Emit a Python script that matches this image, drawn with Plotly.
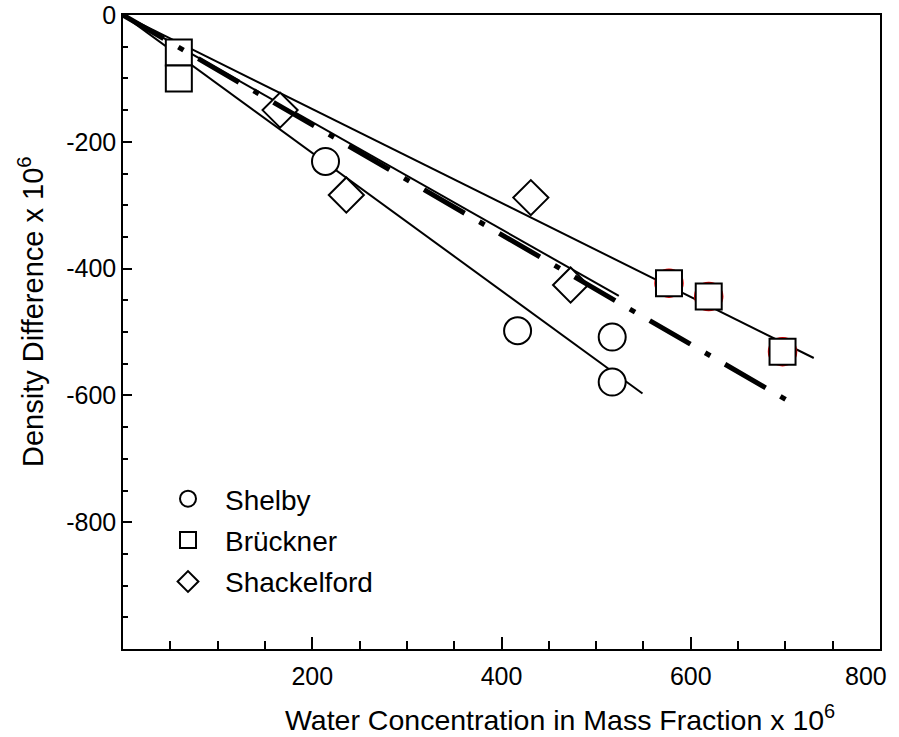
import plotly.graph_objects as go

# ---- data ----
shelby_x = [214, 417, 517, 517]
shelby_y = [-231, -498, -508, -579]

bruckner_x = [59, 59, 577, 619, 697]
bruckner_y = [-59, -100, -423, -444, -531]

shack_x = [166, 236, 431, 473]
shack_y = [-150, -284, -288, -426]

# red marks visible behind some Brückner squares
red_x = [577, 619, 697]
red_y = [-423, -444, -531]

# fitted lines (from origin to end point)
shelby_fit_x = [0, 549]
shelby_fit_y = [0, -597]
bruckner_fit_x = [0, 730]
bruckner_fit_y = [0, -541]
shack_fit_x = [0, 524]
shack_fit_y = [0, -443]
all_fit_x = [0, 701]
all_fit_y = [0, -607]

x_ticks = [200, 400, 600]
x_tick_text = ["200", "400", "600"]
x_last_tick = 800
y_ticks = [0, -200, -400, -600, -800]
y_tick_text = ["0", "-200", "-400", "-600", "-800"]

FONT = "Liberation Sans, Arial, sans-serif"

fig = go.Figure()

line_style = dict(color="black", width=2)
for fx, fy in [(shelby_fit_x, shelby_fit_y), (bruckner_fit_x, bruckner_fit_y), (shack_fit_x, shack_fit_y)]:
    fig.add_trace(go.Scatter(x=fx, y=fy, mode="lines", line=line_style,
                             showlegend=False, hoverinfo="skip"))

fig.add_trace(go.Scatter(x=red_x, y=red_y, mode="markers", showlegend=False,
                         marker=dict(symbol="circle", size=28, color="white",
                                     line=dict(color="red", width=1.5)), hoverinfo="skip"))

mk_line = dict(color="black", width=2)
fig.add_trace(go.Scatter(x=shelby_x, y=shelby_y, mode="markers", name="Shelby", legendgroup="a",
                         marker=dict(symbol="circle", size=27, color="white", line=mk_line)))
fig.add_trace(go.Scatter(x=bruckner_x, y=bruckner_y, mode="markers", name="Brückner", legendgroup="b",
                         marker=dict(symbol="square", size=26, color="white", line=mk_line)))
fig.add_trace(go.Scatter(x=shack_x, y=shack_y, mode="markers", name="Shackelford", legendgroup="c",
                         marker=dict(symbol="diamond", size=27, color="white", line=mk_line)))

fig.add_trace(go.Scatter(x=all_fit_x, y=all_fit_y, mode="lines",
                         line=dict(color="black", width=5, dash="47px,17px,6px,17px"),
                         showlegend=False, hoverinfo="skip"))

axis_common = dict(showline=True, linecolor="black", linewidth=1.5, mirror=True,
                   showgrid=False, zeroline=False, ticks="inside", tickcolor="black",
                   automargin=False,
                   tickfont=dict(family=FONT, size=25, color="black"))

fig.update_xaxes(range=[0, 800], tickmode="array", tickvals=x_ticks, ticktext=x_tick_text,
                 ticklen=12, tickwidth=1.5, ticklabelstandoff=4,
                 minor=dict(tickmode="linear", tick0=0, dtick=50, ticks="inside", ticklen=8,
                            tickcolor="black", tickwidth=1.5),
                 **axis_common)
fig.update_yaxes(range=[-1000, 0], tickmode="array", tickvals=y_ticks, ticktext=y_tick_text,
                 ticklen=9, tickwidth=1.5, ticklabeloverflow="allow",
                 minor=dict(tickmode="linear", tick0=0, dtick=50, ticks="inside", ticklen=5,
                            tickcolor="black", tickwidth=1.5),
                 **axis_common)

# last x tick label, nudged left to stay inside the picture (as in the reference)
fig.add_annotation(text=str(x_last_tick), xref="x", yref="paper", x=x_last_tick,
                   y=-(676 - 649) / 634, xanchor="center", yanchor="middle", xshift=-14,
                   showarrow=False, font=dict(family=FONT, size=25, color="black"))

fig.add_annotation(text="Water Concentration in Mass Fraction x 10<sup>6</sup>",
                   xref="paper", yref="paper", x=(560 - 123) / 757, y=-(718 - 649) / 634,
                   xanchor="center", yanchor="middle", showarrow=False,
                   font=dict(family=FONT, size=28.5, color="black"))
fig.add_annotation(text="Density Difference x 10<sup>6</sup>", textangle=-90,
                   xref="paper", yref="paper", x=-(123 - 31) / 757, y=(649 - 312) / 634,
                   xanchor="center", yanchor="middle", showarrow=False,
                   font=dict(family=FONT, size=29, color="black"))

fig.update_layout(
    width=899, height=737,
    margin=dict(l=123, r=19, t=15, b=88, autoexpand=False),
    plot_bgcolor="white", paper_bgcolor="white",
    showlegend=True,
    legend=dict(x=(151 - 123) / 757, y=(649 - 474) / 634, xanchor="left", yanchor="top",
                bgcolor="rgba(0,0,0,0)", borderwidth=0, traceorder="grouped",
                itemwidth=64, tracegroupgap=2,
                font=dict(family=FONT, size=28, color="black")),
)

fig.write_html("out.html", config={"displayModeBar": False},
               post_script="document.body.style.margin='0px';")
